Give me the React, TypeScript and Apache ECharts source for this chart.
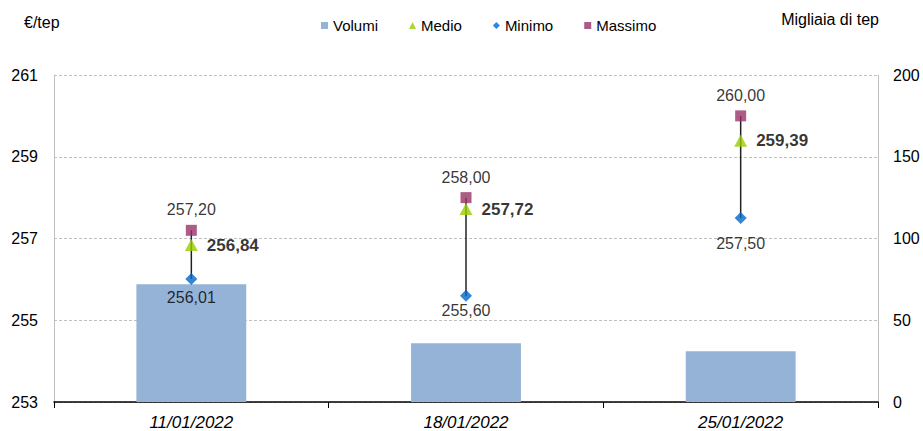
import React, { useEffect, useRef } from "react";
import * as echarts from "echarts";

// Weekly price range (€/tep) and volumes (thousand tep)
const categories = ["11/01/2022", "18/01/2022", "25/01/2022"];
const volumi = [72, 36, 31];
const medio = [256.84, 257.72, 259.39];
const minimo = [256.01, 255.6, 257.5];
const massimo = [257.2, 258.0, 260.0];

const leftTicks = { min: 253, max: 261, interval: 2 };
const rightTicks = { min: 0, max: 200, interval: 50 };

// Fine vertical nudges for the "Minimo" labels so they sit clear of the bars/gridlines
const minimoLabelShift = [-4, -8, 2];

const FONT = "'Liberation Sans', Arial, sans-serif";
const fmt = (v: number) => v.toFixed(2).replace(".", ",");

export default function App() {
  const ref = useRef<HTMLDivElement>(null);

  useEffect(() => {
    document.body.style.margin = "0";
    if (!ref.current) return;
    const chart = echarts.init(ref.current, null, { renderer: "svg" });

    const rangeData = categories.map((_, i) => [i, minimo[i], massimo[i]]);

    chart.setOption({
      animation: false,
      backgroundColor: "#ffffff",
      textStyle: { fontFamily: FONT, color: "#000" },
      grid: { left: 54, right: 45, top: 75, bottom: 29, containLabel: false },
      legend: {
        top: 13,
        left: 316,
        itemGap: 31,
        itemWidth: 7,
        itemHeight: 7,
        textStyle: { fontFamily: FONT, fontSize: 15, color: "#000" },
        data: [
          { name: "Volumi", icon: "rect" },
          { name: "Medio", icon: "triangle" },
          { name: "Minimo", icon: "diamond" },
          { name: "Massimo", icon: "rect" },
        ],
      },
      graphic: [
        {
          type: "text",
          left: 24,
          top: 14,
          style: { text: "€/tep", font: `16px ${FONT}`, fill: "#000" },
        },
        {
          type: "text",
          right: 44,
          top: 11,
          style: { text: "Migliaia di tep", font: `16px ${FONT}`, fill: "#000" },
        },
      ],
      xAxis: {
        type: "category",
        data: categories,
        axisLine: { lineStyle: { color: "#000", width: 1.5 } },
        axisTick: { show: true, length: 6, lineStyle: { color: "#000" } },
        axisLabel: {
          fontFamily: FONT,
          fontSize: 17,
          fontStyle: "italic",
          color: "#000",
          margin: 12,
        },
      },
      yAxis: [
        {
          type: "value",
          ...leftTicks,
          axisLine: { show: true, lineStyle: { color: "#BFBFBF" } },
          axisTick: { show: false },
          axisLabel: { fontFamily: FONT, fontSize: 16, color: "#000", margin: 16 },
          splitLine: { show: true, lineStyle: { color: "#BFBFBF", type: [3, 2] } },
        },
        {
          type: "value",
          ...rightTicks,
          position: "right",
          axisLine: { show: true, lineStyle: { color: "#BFBFBF" } },
          axisTick: { show: false },
          axisLabel: { fontFamily: FONT, fontSize: 16, color: "#000", margin: 15 },
          splitLine: { show: false },
        },
      ],
      series: [
        {
          name: "Volumi",
          type: "bar",
          yAxisIndex: 1,
          barWidth: "40%",
          data: volumi,
          itemStyle: { color: "#95B3D7" },
          z: 1,
        },
        {
          type: "custom",
          yAxisIndex: 0,
          data: rangeData,
          encode: { x: 0, y: [1, 2] },
          z: 2,
          renderItem: (_params: any, api: any) => {
            const lo = api.coord([api.value(0), api.value(1)]);
            const hi = api.coord([api.value(0), api.value(2)]);
            return {
              type: "line",
              shape: { x1: lo[0], y1: lo[1], x2: hi[0], y2: hi[1] },
              style: { stroke: "#222", lineWidth: 1.5 },
            };
          },
        },
        {
          name: "Massimo",
          type: "scatter",
          yAxisIndex: 0,
          data: massimo,
          symbol: "rect",
          symbolSize: 11,
          itemStyle: { color: "#993366" },
          z: 3,
          label: {
            show: true,
            position: "top",
            distance: 7,
            formatter: (p: any) => fmt(p.value),
            fontFamily: FONT,
            fontSize: 16,
            color: "#000",
          },
        },
        {
          name: "Medio",
          type: "scatter",
          yAxisIndex: 0,
          data: medio,
          symbol: "triangle",
          symbolSize: [13, 12],
          itemStyle: { color: "#99CC00" },
          z: 4,
          label: {
            show: true,
            position: "right",
            distance: 9,
            formatter: (p: any) => fmt(p.value),
            fontFamily: FONT,
            fontSize: 17,
            fontWeight: "bold",
            color: "#000",
          },
        },
        {
          name: "Minimo",
          type: "scatter",
          yAxisIndex: 0,
          data: minimo.map((v, i) => ({
            value: v,
            label: { offset: [0, minimoLabelShift[i]] },
          })),
          symbol: "diamond",
          symbolSize: 12,
          itemStyle: { color: "#0066CC" },
          z: 3,
          label: {
            show: true,
            position: "bottom",
            distance: 9,
            formatter: (p: any) => fmt(p.value),
            fontFamily: FONT,
            fontSize: 16,
            color: "#000",
          },
        },
      ],
    });

    return () => chart.dispose();
  }, []);

  return <div ref={ref} style={{ width: 923, height: 431 }} />;
}
